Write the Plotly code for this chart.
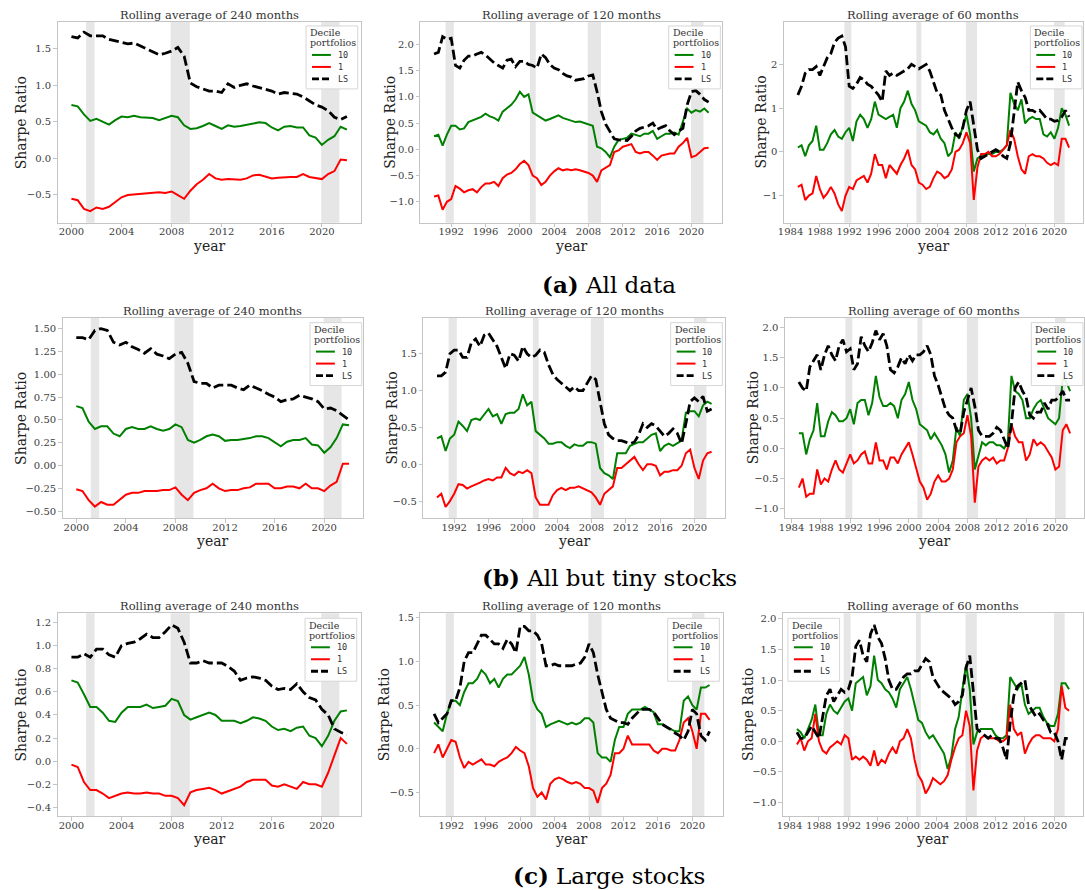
import numpy as np
import plotly.graph_objects as go

W, H = 1085, 890

# ---- sampling dates (fractional years, half-year steps) ----
years_240 = np.arange(2000.0, 2022.01, 0.5)
years_120 = np.arange(1990.0, 2022.01, 0.5)
years_60 = np.arange(1985.0, 2022.01, 0.5)

# ---- (a) All data ----
all_240_d10 = [0.73, 0.71, 0.60, 0.51, 0.54, 0.50, 0.46, 0.52, 0.57, 0.56,
               0.58, 0.56, 0.55, 0.55, 0.52, 0.55, 0.58, 0.56, 0.45, 0.40,
               0.41, 0.44, 0.48, 0.44, 0.40, 0.45, 0.43, 0.44, 0.46, 0.48,
               0.49, 0.48, 0.42, 0.38, 0.43, 0.44, 0.42, 0.42, 0.31, 0.28,
               0.18, 0.25, 0.30, 0.43, 0.39]
all_240_d1 = [-0.56, -0.58, -0.70, -0.73, -0.68, -0.70, -0.67, -0.60, -0.54, -0.51,
              -0.50, -0.49, -0.48, -0.47, -0.47, -0.48, -0.46, -0.51, -0.56, -0.45,
              -0.36, -0.30, -0.22, -0.28, -0.30, -0.29, -0.29, -0.30, -0.28, -0.24,
              -0.23, -0.26, -0.28, -0.27, -0.26, -0.26, -0.26, -0.22, -0.26, -0.27,
              -0.29, -0.22, -0.18, -0.02, -0.03]
all_240_ls = [1.67, 1.65, 1.73, 1.68, 1.68, 1.68, 1.63, 1.61, 1.60, 1.57,
              1.58, 1.54, 1.50, 1.46, 1.42, 1.44, 1.47, 1.52, 1.40, 1.03,
              0.98, 0.95, 0.92, 0.92, 0.90, 1.02, 0.97, 1.00, 1.02, 0.99,
              0.97, 0.95, 0.92, 0.88, 0.90, 0.89, 0.88, 0.84, 0.78, 0.73,
              0.70, 0.65, 0.56, 0.53, 0.57]

all_120_d10 = [0.25, 0.28, 0.07, 0.28, 0.45, 0.45, 0.38, 0.40, 0.52, 0.55,
               0.58, 0.62, 0.68, 0.63, 0.60, 0.55, 0.72, 0.78, 0.85, 0.95,
               1.10, 1.00, 1.05, 0.70, 0.65, 0.60, 0.55, 0.58, 0.62, 0.65,
               0.60, 0.57, 0.55, 0.52, 0.53, 0.50, 0.47, 0.45, 0.05, 0.02,
               -0.05, -0.15, 0.05, 0.18, 0.20, 0.22, 0.30, 0.28, 0.25, 0.30,
               0.30, 0.35, 0.20, 0.25, 0.30, 0.30, 0.32, 0.28, 0.55, 0.78,
               0.70, 0.75, 0.72, 0.78, 0.70]
all_120_d1 = [-0.90, -0.88, -1.15, -1.00, -0.95, -0.70, -0.75, -0.82, -0.78, -0.76,
              -0.82, -0.72, -0.65, -0.65, -0.62, -0.70, -0.55, -0.48, -0.45, -0.38,
              -0.28, -0.22, -0.30, -0.50, -0.55, -0.68, -0.62, -0.50, -0.42, -0.36,
              -0.40, -0.38, -0.40, -0.38, -0.40, -0.42, -0.45, -0.50, -0.62, -0.40,
              -0.35, -0.30, -0.05, -0.02, 0.05, 0.08, 0.10, -0.05, -0.08, -0.05,
              -0.05, -0.12, -0.20, -0.12, -0.10, -0.08, -0.08, 0.05, 0.12, 0.22,
              -0.15, -0.12, -0.05, 0.02, 0.03]
all_120_ls = [1.82, 1.85, 2.15, 2.10, 2.12, 1.60, 1.55, 1.70, 1.78, 1.78,
              1.82, 1.85, 1.80, 1.72, 1.65, 1.60, 1.55, 1.70, 1.72, 1.58,
              1.68, 1.68, 1.62, 1.60, 1.55, 1.82, 1.75, 1.62, 1.55, 1.52,
              1.45, 1.40, 1.38, 1.32, 1.33, 1.35, 1.40, 1.42, 1.10, 0.72,
              0.48, 0.33, 0.20, 0.18, 0.17, 0.17, 0.25, 0.35, 0.40, 0.42,
              0.45, 0.50, 0.38, 0.42, 0.45, 0.35, 0.28, 0.35, 0.40, 0.85,
              1.10, 1.12, 1.05, 0.95, 0.90]

all_60_d10 = [0.10, 0.15, -0.10, 0.15, 0.25, 0.60, 0.05, 0.05, 0.20, 0.40,
              0.50, 0.35, 0.30, 0.45, 0.55, 0.25, 0.70, 0.85, 0.75, 0.55,
              0.75, 1.15, 0.85, 0.80, 0.75, 0.80, 0.85, 0.55, 1.00, 1.15,
              1.40, 1.10, 0.95, 0.70, 0.65, 0.60, 0.45, 0.40, 0.50, 0.30,
              0.20, -0.10, 0.00, 0.45, 0.30, 0.60, 0.85, 0.40, -0.45, -0.15,
              -0.10, -0.05, -0.05, -0.05, 0.00, 0.00, 0.05, 0.15, 1.35, 1.10,
              0.95, 1.20, 0.65, 0.75, 0.80, 0.75, 0.75, 0.40, 0.35, 0.45,
              0.30, 0.55, 1.00, 0.85, 0.60]
all_60_d1 = [-0.80, -0.75, -1.10, -1.00, -0.95, -0.55, -0.85, -1.05, -0.95, -0.80,
             -0.95, -1.20, -1.35, -1.00, -0.80, -0.85, -0.65, -0.60, -0.55, -0.70,
             -0.50, -0.05, -0.30, -0.30, -0.60, -0.30, -0.40, -0.50, -0.30, -0.15,
             0.05, -0.30, -0.40, -0.70, -0.75, -0.85, -0.80, -0.60, -0.45, -0.50,
             -0.60, -0.55, -0.40, 0.00, 0.05, 0.20, 0.45, 0.20, -1.10, -0.35,
             -0.05, -0.05, 0.00, -0.10, -0.10, -0.05, 0.05, 0.15, 0.50, 0.30,
             -0.10, -0.40, -0.50, -0.10, -0.05, -0.10, -0.10, -0.15, -0.25, -0.30,
             -0.25, -0.30, 0.30, 0.30, 0.10]
all_60_ls = [1.30, 1.50, 1.80, 1.88, 1.88, 1.95, 1.75, 1.95, 2.15, 2.25,
             2.50, 2.60, 2.65, 2.40, 1.50, 1.45, 1.55, 1.70, 1.65, 1.55,
             1.50, 1.40, 1.30, 1.15, 1.85, 1.75, 1.80, 1.75, 1.80, 1.85,
             1.90, 2.00, 1.95, 1.90, 1.95, 2.00, 1.85, 1.60, 1.35, 1.30,
             0.95, 0.75, 0.55, 0.40, 0.35, 0.55, 0.95, 1.15, 0.60, 0.05,
             -0.15, -0.10, -0.05, 0.00, 0.05, 0.00, -0.10, -0.15, 0.20, 0.90,
             1.60, 1.40, 1.25, 0.95, 0.95, 0.90, 0.95, 0.85, 0.75, 0.75,
             0.70, 0.72, 0.80, 0.95, 0.80]

# ---- (b) All but tiny stocks ----
nt_240_d10 = [0.65, 0.63, 0.48, 0.40, 0.43, 0.43, 0.35, 0.32, 0.40, 0.42,
              0.40, 0.40, 0.43, 0.40, 0.38, 0.40, 0.45, 0.42, 0.28, 0.25,
              0.28, 0.32, 0.34, 0.32, 0.27, 0.28, 0.28, 0.29, 0.30, 0.32,
              0.32, 0.30, 0.25, 0.21, 0.26, 0.28, 0.28, 0.30, 0.23, 0.22,
              0.14, 0.20, 0.30, 0.45, 0.44]
nt_240_d1 = [-0.26, -0.28, -0.38, -0.45, -0.40, -0.43, -0.43, -0.38, -0.32, -0.30,
             -0.30, -0.28, -0.28, -0.28, -0.27, -0.27, -0.24, -0.32, -0.38, -0.30,
             -0.27, -0.25, -0.20, -0.25, -0.28, -0.27, -0.27, -0.25, -0.24, -0.20,
             -0.20, -0.20, -0.25, -0.25, -0.23, -0.23, -0.25, -0.20, -0.25, -0.25,
             -0.28, -0.22, -0.18, 0.02, 0.02]
nt_240_ls = [1.40, 1.40, 1.38, 1.48, 1.50, 1.48, 1.35, 1.32, 1.35, 1.30,
             1.27, 1.23, 1.28, 1.22, 1.20, 1.17, 1.22, 1.24, 1.12, 0.92,
             0.90, 0.90, 0.85, 0.88, 0.88, 0.88, 0.85, 0.83, 0.88, 0.85,
             0.82, 0.78, 0.75, 0.70, 0.72, 0.73, 0.77, 0.75, 0.73, 0.70,
             0.62, 0.63, 0.60, 0.55, 0.50]

nt_120_d10 = [0.35, 0.38, 0.18, 0.35, 0.40, 0.58, 0.52, 0.45, 0.60, 0.62,
              0.60, 0.68, 0.75, 0.65, 0.68, 0.55, 0.68, 0.70, 0.70, 0.75,
              0.95, 0.80, 0.85, 0.45, 0.40, 0.35, 0.28, 0.28, 0.30, 0.30,
              0.25, 0.22, 0.27, 0.25, 0.25, 0.30, 0.30, 0.28, -0.05, -0.12,
              -0.15, -0.20, 0.15, 0.15, 0.15, 0.25, 0.28, 0.30, 0.30, 0.35,
              0.40, 0.42, 0.18, 0.25, 0.28, 0.25, 0.28, 0.32, 0.70, 0.72,
              0.72, 0.65, 0.80, 0.85, 0.82]
nt_120_d1 = [-0.45, -0.40, -0.58, -0.50, -0.40, -0.27, -0.28, -0.33, -0.30, -0.28,
             -0.25, -0.22, -0.20, -0.22, -0.18, -0.18, -0.05, -0.12, -0.15, -0.10,
             -0.12, -0.08, -0.12, -0.45, -0.55, -0.55, -0.55, -0.42, -0.35, -0.32,
             -0.35, -0.32, -0.32, -0.30, -0.33, -0.35, -0.38, -0.45, -0.55, -0.40,
             -0.35, -0.30, -0.05, -0.05, 0.00, 0.05, 0.10, 0.00, -0.08, 0.00,
             0.00, -0.02, -0.15, -0.10, -0.10, -0.08, -0.08, -0.02, 0.15, 0.20,
             -0.05, -0.20, 0.05, 0.15, 0.17]
nt_120_ls = [1.20, 1.20, 1.25, 1.50, 1.55, 1.55, 1.45, 1.45, 1.65, 1.70,
             1.60, 1.75, 1.78, 1.68, 1.60, 1.45, 1.30, 1.50, 1.48, 1.40,
             1.60, 1.50, 1.45, 1.48, 1.55, 1.52, 1.35, 1.22, 1.15, 1.10,
             1.05, 1.00, 1.05, 1.00, 1.00, 1.10, 1.20, 1.15, 0.85, 0.55,
             0.40, 0.35, 0.32, 0.32, 0.30, 0.28, 0.30, 0.40, 0.55, 0.50,
             0.55, 0.52, 0.45, 0.38, 0.42, 0.48, 0.42, 0.28, 0.55, 0.85,
             0.90, 0.85, 0.92, 0.72, 0.75]

nt_60_d10 = [0.25, 0.25, -0.10, 0.15, 0.30, 0.75, 0.20, 0.20, 0.45, 0.60,
             0.55, 0.45, 0.45, 0.50, 0.65, 0.40, 0.75, 0.80, 0.80, 0.55,
             0.75, 1.20, 0.85, 0.70, 0.70, 0.75, 0.70, 0.50, 0.80, 0.90,
             1.10, 0.80, 0.65, 0.40, 0.35, 0.30, 0.15, 0.25, 0.15, 0.05,
             -0.10, -0.40, -0.20, 0.35, 0.20, 0.80, 0.90, 0.50, -0.35, -0.10,
             0.10, 0.05, 0.10, 0.10, 0.05, 0.05, 0.00, 0.10, 1.20, 0.95,
             0.90, 0.80, 0.50, 0.50, 0.65, 0.75, 0.80, 0.65, 0.50, 0.45,
             0.40, 0.50, 1.15, 1.10, 0.95]
nt_60_d1 = [-0.65, -0.50, -0.80, -0.75, -0.75, -0.35, -0.60, -0.50, -0.55, -0.35,
            -0.20, -0.35, -0.40, -0.25, -0.10, -0.25, -0.20, -0.10, -0.05, -0.25,
            -0.25, 0.10, -0.20, -0.20, -0.35, -0.15, -0.15, -0.25, -0.10, 0.00,
            0.10, -0.10, -0.35, -0.55, -0.65, -0.85, -0.75, -0.55, -0.45, -0.55,
            -0.55, -0.50, -0.35, 0.10, 0.20, 0.25, 0.55, 0.20, -0.90, -0.30,
            -0.20, -0.15, -0.20, -0.15, -0.25, -0.20, -0.20, 0.00, 0.40, 0.20,
            0.10, 0.10, -0.20, -0.10, 0.15, 0.05, 0.10, 0.05, -0.05, -0.15,
            -0.35, -0.30, 0.30, 0.40, 0.25]
nt_60_ls = [1.10, 1.00, 0.95, 1.35, 1.45, 1.55, 1.30, 1.55, 1.70, 1.55,
            1.45, 1.70, 1.80, 1.60, 1.65, 1.30, 1.40, 1.85, 1.70, 1.60,
            1.75, 1.95, 1.80, 1.90, 1.70, 1.30, 1.25, 1.35, 1.50, 1.40,
            1.55, 1.45, 1.55, 1.55, 1.60, 1.70, 1.55, 1.20, 1.05, 0.85,
            0.65, 0.55, 0.50, 0.30, 0.25, 0.60, 0.80, 1.00, 0.70, 0.30,
            0.20, 0.20, 0.20, 0.25, 0.35, 0.30, 0.15, 0.00, 0.40, 1.00,
            1.10, 0.95, 0.85, 0.55, 0.50, 0.60, 0.60, 0.75, 0.65, 0.80,
            0.80, 0.85, 0.95, 0.80, 0.80]

# ---- (c) Large stocks ----
lg_240_d10 = [0.70, 0.68, 0.58, 0.47, 0.47, 0.42, 0.35, 0.34, 0.42, 0.47,
              0.47, 0.47, 0.49, 0.46, 0.47, 0.48, 0.54, 0.52, 0.40, 0.36,
              0.38, 0.40, 0.42, 0.40, 0.35, 0.35, 0.35, 0.33, 0.35, 0.38,
              0.37, 0.35, 0.30, 0.27, 0.28, 0.26, 0.29, 0.30, 0.22, 0.20,
              0.13, 0.22, 0.35, 0.43, 0.44]
lg_240_d1 = [-0.03, -0.05, -0.18, -0.25, -0.25, -0.28, -0.32, -0.30, -0.28, -0.27,
             -0.28, -0.28, -0.27, -0.28, -0.28, -0.30, -0.30, -0.32, -0.38, -0.27,
             -0.25, -0.24, -0.23, -0.25, -0.28, -0.26, -0.24, -0.22, -0.18, -0.16,
             -0.16, -0.16, -0.21, -0.22, -0.20, -0.22, -0.24, -0.18, -0.20, -0.20,
             -0.22, -0.10, 0.05, 0.20, 0.15]
lg_240_ls = [0.90, 0.90, 0.93, 0.90, 0.97, 0.97, 0.92, 0.90, 1.00, 1.02,
             1.03, 1.06, 1.10, 1.07, 1.07, 1.12, 1.18, 1.15, 1.03, 0.85,
             0.85, 0.87, 0.85, 0.85, 0.85, 0.82, 0.78, 0.70, 0.72, 0.73,
             0.72, 0.70, 0.65, 0.62, 0.63, 0.62, 0.67, 0.60, 0.55, 0.53,
             0.45, 0.40, 0.28, 0.25, 0.23]

lg_120_d10 = [0.30, 0.25, 0.20, 0.40, 0.55, 0.55, 0.50, 0.65, 0.75, 0.75,
              0.80, 0.90, 0.85, 0.75, 0.80, 0.70, 0.80, 0.85, 0.85, 0.90,
              0.95, 1.05, 0.85, 0.55, 0.45, 0.40, 0.25, 0.28, 0.30, 0.32,
              0.30, 0.28, 0.30, 0.28, 0.30, 0.35, 0.35, 0.30, -0.05, -0.10,
              -0.10, -0.15, 0.10, 0.25, 0.25, 0.40, 0.45, 0.45, 0.45, 0.48,
              0.45, 0.42, 0.28, 0.28, 0.25, 0.22, 0.20, 0.20, 0.55, 0.60,
              0.50, 0.45, 0.70, 0.70, 0.73]
lg_120_d1 = [-0.05, 0.05, -0.10, 0.00, 0.10, 0.08, -0.10, -0.22, -0.15, -0.18,
             -0.15, -0.12, -0.18, -0.18, -0.20, -0.15, -0.12, -0.10, -0.05, 0.02,
             -0.02, -0.05, -0.20, -0.45, -0.55, -0.50, -0.58, -0.40, -0.35, -0.33,
             -0.35, -0.38, -0.40, -0.38, -0.40, -0.45, -0.45, -0.48, -0.62, -0.45,
             -0.40, -0.30, -0.05, -0.05, 0.00, 0.15, 0.05, 0.05, 0.05, 0.05,
             0.05, -0.02, -0.05, 0.00, 0.00, -0.02, -0.02, 0.10, 0.30, 0.35,
             0.20, 0.00, 0.40, 0.40, 0.33]
lg_120_ls = [0.40, 0.30, 0.35, 0.40, 0.55, 0.55, 0.70, 1.00, 1.10, 1.10,
             1.20, 1.30, 1.30, 1.25, 1.20, 1.20, 1.15, 1.25, 1.20, 1.10,
             1.40, 1.40, 1.35, 1.35, 1.30, 1.20, 0.95, 0.95, 0.97, 0.95,
             0.95, 0.95, 0.95, 0.97, 0.98, 1.05, 1.20, 1.10, 0.85, 0.65,
             0.45, 0.35, 0.32, 0.30, 0.30, 0.28, 0.35, 0.40, 0.45, 0.45,
             0.45, 0.42, 0.35, 0.28, 0.25, 0.22, 0.18, 0.15, 0.10, 0.20,
             0.45, 0.40, 0.15, 0.10, 0.20]

lg_60_d10 = [0.20, 0.15, 0.05, 0.20, 0.35, 0.60, 0.10, 0.10, 0.45, 0.60,
             0.50, 0.45, 0.55, 0.65, 0.70, 0.50, 0.95, 1.00, 1.05, 0.75,
             0.90, 1.40, 1.00, 0.95, 0.85, 0.80, 0.70, 0.55, 0.85, 0.95,
             1.05, 0.85, 0.60, 0.35, 0.30, 0.15, 0.05, 0.10, 0.00, -0.10,
             -0.20, -0.45, -0.25, 0.20, 0.40, 0.85, 1.25, 0.85, -0.05, 0.15,
             0.20, 0.20, 0.20, 0.20, 0.10, 0.05, 0.05, 0.10, 1.05, 0.95,
             0.85, 0.95, 0.60, 0.45, 0.50, 0.55, 0.55, 0.40, 0.30, 0.25,
             0.25, 0.45, 0.95, 0.95, 0.85]
lg_60_d1 = [-0.05, 0.05, -0.15, 0.00, 0.05, 0.45, 0.00, -0.15, -0.20, -0.10,
            -0.05, 0.00, -0.05, 0.10, 0.05, -0.30, -0.25, -0.30, -0.25, -0.30,
            -0.40, -0.15, -0.40, -0.30, -0.35, -0.20, -0.10, -0.20, 0.00, 0.05,
            0.20, 0.05, -0.30, -0.55, -0.65, -0.85, -0.75, -0.60, -0.65, -0.70,
            -0.65, -0.55, -0.30, -0.10, 0.05, 0.10, 0.50, 0.25, -0.80, -0.15,
            0.05, 0.10, 0.05, 0.05, 0.05, 0.00, 0.00, 0.05, 0.60, 0.20,
            0.10, 0.15, -0.20, -0.05, 0.05, 0.10, 0.10, 0.05, 0.05, 0.05,
            0.00, 0.20, 0.90, 0.55, 0.50]
lg_60_ls = [0.15, 0.05, 0.05, 0.15, 0.25, 0.15, 0.05, 0.40, 0.75, 0.85,
            0.65, 0.75, 0.85, 0.80, 0.85, 1.05, 1.55, 1.65, 1.40, 1.30,
            1.75, 1.90, 1.70, 1.60, 1.35, 1.00, 0.85, 0.85, 0.95, 1.05,
            1.10, 1.10, 1.15, 1.15, 1.25, 1.35, 1.30, 1.05, 0.95, 0.85,
            0.80, 0.75, 0.70, 0.60, 0.65, 0.75, 1.20, 1.40, 0.75, 0.20,
            0.15, 0.10, 0.05, 0.10, 0.05, 0.05, -0.10, -0.30, 0.30, 0.75,
            0.90, 0.95, 1.00, 0.60, 0.50, 0.40, 0.45, 0.35, 0.30, 0.15,
            0.15, 0.00, -0.30, 0.05, 0.05]

# shaded recession periods (start, end)
recessions = [(1991.35, 1992.3), (2001.17, 2001.85), (2007.92, 2009.45), (2019.95, 2021.4)]

series_names = ["10", "1", "LS"]
legend_title = ["Decile", "portfolios"]
captions = ["<b>(a)</b> All data", "<b>(b)</b> All but tiny stocks", "<b>(c)</b> Large stocks"]

# ---- panel layout (pixel boxes: left, right, top, bottom) ----
panels = [
    dict(years=years_240, data=(all_240_d10, all_240_d1, all_240_ls), win=240,
         box=(52, 357, 21, 222), yr=(-0.89, 1.87), yt=[-0.5, 0.0, 0.5, 1.0, 1.5], fmt="{:.1f}",
         xr=(1998.9, 2023.1), xt=list(range(2000, 2021, 4)), ylab_x=15, leg=(302, 25)),
    dict(years=years_120, data=(all_120_d10, all_120_d1, all_120_ls), win=120,
         box=(417, 721, 21, 222), yr=(-1.40, 2.43), yt=[-1.0, -0.5, 0.0, 0.5, 1.0, 1.5, 2.0], fmt="{:.1f}",
         xr=(1988.4, 2023.6), xt=list(range(1992, 2021, 4)), ylab_x=387, leg=(667, 25)),
    dict(years=years_60, data=(all_60_d10, all_60_d1, all_60_ls), win=60,
         box=(783, 1084, 21, 222), yr=(-1.62, 2.97), yt=[-1, 0, 1, 2], fmt="{:.0f}",
         xr=(1983.1, 2023.9), xt=list(range(1984, 2021, 4)), ylab_x=760, leg=(1031, 25)),
    dict(years=years_240, data=(nt_240_d10, nt_240_d1, nt_240_ls), win=240,
         box=(57, 359, 317, 518), yr=(-0.58, 1.62), yt=[-0.5, -0.25, 0.0, 0.25, 0.5, 0.75, 1.0, 1.25, 1.5],
         fmt="{:.2f}", xr=(1998.9, 2023.1), xt=list(range(2000, 2021, 4)), ylab_x=15, leg=(306, 322)),
    dict(years=years_120, data=(nt_120_d10, nt_120_d1, nt_120_ls), win=120,
         box=(420, 724, 317, 518), yr=(-0.735, 1.99), yt=[-0.5, 0.0, 0.5, 1.0, 1.5], fmt="{:.1f}",
         xr=(1988.4, 2023.6), xt=list(range(1992, 2021, 4)), ylab_x=389, leg=(669, 322)),
    dict(years=years_60, data=(nt_60_d10, nt_60_d1, nt_60_ls), win=60,
         box=(784, 1085, 317, 518), yr=(-1.16, 2.165), yt=[-1.0, -0.5, 0.0, 0.5, 1.0, 1.5, 2.0], fmt="{:.1f}",
         xr=(1983.1, 2023.9), xt=list(range(1984, 2021, 4)), ylab_x=752, leg=(1032, 322)),
    dict(years=years_240, data=(lg_240_d10, lg_240_d1, lg_240_ls), win=240,
         box=(52, 357, 613, 816), yr=(-0.475, 1.28), yt=[-0.4, -0.2, 0.0, 0.2, 0.4, 0.6, 0.8, 1.0, 1.2],
         fmt="{:.1f}", xr=(1998.9, 2023.1), xt=list(range(2000, 2021, 4)), ylab_x=15, leg=(301, 618)),
    dict(years=years_120, data=(lg_120_d10, lg_120_d1, lg_120_ls), win=120,
         box=(417, 722, 613, 816), yr=(-0.77, 1.55), yt=[-0.5, 0.0, 0.5, 1.0, 1.5], fmt="{:.1f}",
         xr=(1988.4, 2023.6), xt=list(range(1992, 2021, 4)), ylab_x=380, leg=(666, 618)),
    dict(years=years_60, data=(lg_60_d10, lg_60_d1, lg_60_ls), win=60,
         box=(782, 1084, 613, 816), yr=(-1.22, 2.09), yt=[-1.0, -0.5, 0.0, 0.5, 1.0, 1.5, 2.0], fmt="{:.1f}",
         xr=(1983.1, 2023.9), xt=list(range(1984, 2021, 4)), ylab_x=747, leg=(787, 618)),
]

COLORS = ["green", "red", "black"]
SERIF = "DejaVu Serif"
MONO = "DejaVu Sans Mono"
TICK_COLOR = "#3c3c3c"
SPINE = "#c4c4c4"
LEG_W, LEG_H = 52, 63


def fmt_tick(v, pattern):
    return pattern.format(v).replace("-", "\u2212")


def px(x, y):
    """Pixel position (from top-left) to paper coordinates."""
    return x / W, 1 - y / H


fig = go.Figure()
layout = dict(
    width=W, height=H, margin=dict(l=0, r=0, t=0, b=0),
    paper_bgcolor="white", plot_bgcolor="white", showlegend=False,
)
annotations = []
shapes = []

for i, p in enumerate(panels, start=1):
    xa = "x" if i == 1 else f"x{i}"
    ya = "y" if i == 1 else f"y{i}"
    l, r, t, b = p["box"]

    for vals, name, col in zip(p["data"], series_names, COLORS):
        line = dict(color=col, width=2)
        if name == "LS":
            line = dict(color=col, width=2.8, dash="10px,4px")
        fig.add_trace(go.Scatter(
            x=p["years"], y=vals, mode="lines", name=name, line=line,
            xaxis=xa, yaxis=ya, showlegend=False,
        ))

    axis_common = dict(
        showgrid=False, zeroline=False, showline=True, mirror=True,
        linecolor=SPINE, linewidth=1, ticks="outside", ticklen=3.5,
        tickcolor=SPINE, tickfont=dict(family=SERIF, size=10, color=TICK_COLOR),
    )
    layout["xaxis" if i == 1 else f"xaxis{i}"] = dict(
        domain=[l / W, r / W], anchor=ya, range=list(p["xr"]),
        tickvals=p["xt"], ticktext=[str(v) for v in p["xt"]],
        ticklabelstandoff=-4, **axis_common,
    )
    layout["yaxis" if i == 1 else f"yaxis{i}"] = dict(
        domain=[1 - b / H, 1 - t / H], anchor=xa, range=list(p["yr"]),
        tickvals=p["yt"], ticktext=[fmt_tick(v, p["fmt"]) for v in p["yt"]],
        **axis_common,
    )

    # shaded recessions within the plotted period
    for r0, r1 in recessions:
        if r1 < p["years"][0]:
            continue
        shapes.append(dict(
            type="rect", xref=xa, yref=f"{ya} domain", x0=r0, x1=r1, y0=0, y1=1,
            fillcolor="#e6e6e6", line=dict(width=0), layer="below",
        ))

    # compact legend box
    lx, ly = p["leg"]
    x0, y0 = px(lx, ly)
    x1, y1 = px(lx + LEG_W, ly + LEG_H)
    shapes.append(dict(
        type="rect", xref="paper", yref="paper", x0=x0, x1=x1, y0=y1, y1=y0,
        fillcolor="rgba(255,255,255,0.9)", line=dict(color="#d6d6d6", width=1), layer="above",
    ))
    for k, txt in enumerate(legend_title):
        annotations.append(dict(
            text=txt, x=px(lx + 2, 0)[0], y=px(0, ly + 7 + 10 * k)[1],
            xref="paper", yref="paper", showarrow=False, xanchor="left", yanchor="middle",
            font=dict(family=SERIF, size=9.5, color="#333"),
        ))
    for k, (name, col) in enumerate(zip(series_names, COLORS)):
        yy = ly + 29 + 12 * k
        sx0, sy = px(lx + 6, yy)
        sx1, _ = px(lx + 25, yy)
        seg = dict(color=col, width=2)
        if name == "LS":
            seg = dict(color=col, width=2.8, dash="7px,3px")
        shapes.append(dict(type="line", xref="paper", yref="paper",
                           x0=sx0, x1=sx1, y0=sy, y1=sy, line=seg, layer="above"))
        annotations.append(dict(
            text=name, x=px(lx + 30, 0)[0], y=sy, xref="paper", yref="paper",
            showarrow=False, xanchor="left", yanchor="middle",
            font=dict(family=MONO, size=8.5, color="#333"),
        ))

    cx = (l + r) / 2 / W
    annotations.append(dict(
        text=f"Rolling average of {p['win']} months", x=cx, y=1 - (t - 7) / H,
        xref="paper", yref="paper", showarrow=False, xanchor="center", yanchor="middle",
        font=dict(family=SERIF, size=11.5, color="#333"),
    ))
    annotations.append(dict(
        text="year", x=cx, y=1 - (b + 23) / H, xref="paper", yref="paper",
        showarrow=False, xanchor="center", yanchor="middle",
        font=dict(family=SERIF, size=14, color="#222"),
    ))
    annotations.append(dict(
        text="Sharpe Ratio", x=p["ylab_x"] / W, y=1 - (t + b) / 2 / H,
        xref="paper", yref="paper", showarrow=False, textangle=-90,
        xanchor="center", yanchor="middle",
        font=dict(family=SERIF, size=14, color="#222"),
    ))

for cap, cy in zip(captions, [284, 577, 875]):
    annotations.append(dict(
        text=cap, x=607 / W, y=1 - cy / H, xref="paper", yref="paper",
        showarrow=False, xanchor="center", yanchor="middle",
        font=dict(family=SERIF, size=23, color="black"),
    ))

layout["annotations"] = annotations
layout["shapes"] = shapes
fig.update_layout(**layout)

fig.write_html("out.html")
